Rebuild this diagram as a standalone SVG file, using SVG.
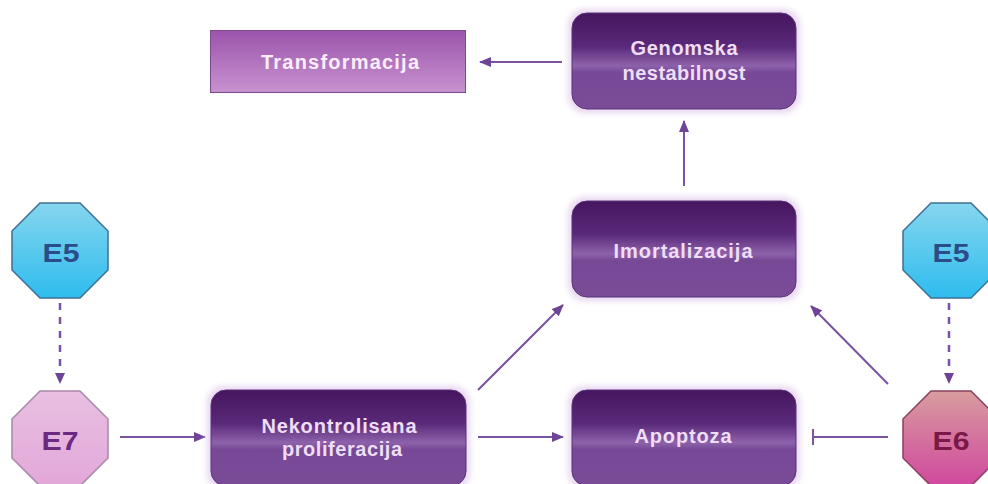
<svg xmlns="http://www.w3.org/2000/svg" width="988" height="484" viewBox="0 0 988 484">
<defs>
<linearGradient id="gBox" x1="0" y1="0" x2="0" y2="1">
<stop offset="0" stop-color="#45155f"/>
<stop offset="0.35" stop-color="#5a2a7a"/>
<stop offset="0.55" stop-color="#8e62ab"/>
<stop offset="0.62" stop-color="#764896"/>
<stop offset="1" stop-color="#7a4c98"/>
</linearGradient>
<linearGradient id="gTrans" x1="0" y1="0" x2="0" y2="1">
<stop offset="0" stop-color="#9c54ac"/>
<stop offset="1" stop-color="#c792cf"/>
</linearGradient>
<linearGradient id="gE5" x1="0" y1="0" x2="0" y2="1">
<stop offset="0" stop-color="#86d6ee"/>
<stop offset="1" stop-color="#2ebcee"/>
</linearGradient>
<linearGradient id="gE7" x1="0" y1="0" x2="0" y2="1">
<stop offset="0" stop-color="#e9bfe2"/>
<stop offset="1" stop-color="#e2a8d8"/>
</linearGradient>
<linearGradient id="gE6" x1="0" y1="0" x2="0" y2="1">
<stop offset="0" stop-color="#d89c9e"/>
<stop offset="1" stop-color="#d0489e"/>
</linearGradient>
<marker id="arr" viewBox="0 0 12 10" refX="11" refY="5" markerWidth="12" markerHeight="10" markerUnits="userSpaceOnUse" orient="auto">
<path d="M0,0 L12,5 L0,10 z" fill="#6e4496"/>
</marker>
<marker id="tee" viewBox="0 0 4 16" refX="2" refY="8" markerWidth="4" markerHeight="16" markerUnits="userSpaceOnUse" orient="auto">
<rect x="1" y="0" width="2" height="16" fill="#7a58a0"/>
</marker>
<filter id="glow" x="-10%" y="-20%" width="120%" height="140%">
<feGaussianBlur stdDeviation="3"/>
</filter>
</defs>
<style>
.box{fill:url(#gBox);stroke:#5a3278;stroke-width:1}
.halo{fill:#e8d6f0;filter:url(#glow)}
.lbl{font-family:"Liberation Sans",Arial,sans-serif;font-weight:bold;font-size:20px;fill:#efdef6;text-anchor:middle}
.elbl{font-family:"Liberation Sans",Arial,sans-serif;font-weight:bold;font-size:25px;text-anchor:middle}
.conn{stroke:#7a52a2;stroke-width:2;fill:none}
.dash{stroke:#7a52a2;stroke-width:2.5;fill:none;stroke-dasharray:7,7}
</style>
<rect width="988" height="484" fill="#ffffff"/>

<g id="connectors">
<line class="conn" x1="562" y1="62" x2="480" y2="62" marker-end="url(#arr)"/>
<line class="conn" x1="684" y1="186" x2="684" y2="121" marker-end="url(#arr)"/>
<line class="conn" x1="478" y1="390" x2="563" y2="305" marker-end="url(#arr)"/>
<line class="conn" x1="888" y1="384" x2="811" y2="306" marker-end="url(#arr)"/>
<line class="conn" x1="120" y1="437" x2="205" y2="437" marker-end="url(#arr)"/>
<line class="conn" x1="478" y1="437" x2="563" y2="437" marker-end="url(#arr)"/>
<line class="conn" x1="888" y1="437" x2="813" y2="437" marker-end="url(#tee)"/>
<line class="dash" x1="60" y1="303" x2="60" y2="373"/>
<path d="M55,373 L65,373 L60,384 z" fill="#6e4496"/>
<line class="dash" x1="949" y1="303" x2="949" y2="373"/>
<path d="M944,373 L954,373 L949,384 z" fill="#6e4496"/>
</g>

<g id="transformacija">
<rect x="210.5" y="30.5" width="255" height="62" fill="url(#gTrans)" stroke="#7b4a8c" stroke-width="1"/>
<text class="lbl" x="340" y="69" textLength="158" lengthAdjust="spacing" style="fill:#fbeefc">Transformacija</text>
</g>

<g id="genomska">
<rect class="halo" x="568" y="9" width="232" height="104" rx="17"/>
<rect class="box" x="572" y="13" width="224" height="96" rx="15"/>
<text class="lbl" x="684" y="55" textLength="107" lengthAdjust="spacing">Genomska</text>
<text class="lbl" x="684" y="80" textLength="123" lengthAdjust="spacing">nestabilnost</text>
</g>

<g id="imortalizacija">
<rect class="halo" x="568" y="197" width="232" height="104" rx="17"/>
<rect class="box" x="572" y="201" width="224" height="96" rx="15"/>
<text class="lbl" x="683" y="258" textLength="139" lengthAdjust="spacing">Imortalizacija</text>
</g>

<g id="nekontrolisana">
<rect class="halo" x="207" y="386" width="263" height="104" rx="17"/>
<rect class="box" x="211" y="390" width="255" height="96" rx="15"/>
<text class="lbl" x="339" y="433" textLength="155" lengthAdjust="spacing">Nekontrolisana</text>
<text class="lbl" x="342" y="456" textLength="120" lengthAdjust="spacing">proliferacija</text>
</g>

<g id="apoptoza">
<rect class="halo" x="568" y="386" width="232" height="104" rx="17"/>
<rect class="box" x="572" y="390" width="224" height="96" rx="15"/>
<text class="lbl" x="683" y="443" textLength="97" lengthAdjust="spacing">Apoptoza</text>
</g>

<g id="e5-left">
<polygon points="40,203 80,203 108,231 108,270 80,298 40,298 12,270 12,231" fill="url(#gE5)" stroke="#3f6f92" stroke-width="1.5"/>
<text class="elbl" x="61" y="262" fill="#2a4c88" textLength="37" lengthAdjust="spacingAndGlyphs">E5</text>
</g>

<g id="e7">
<polygon points="40,391 80,391 108,419 108,458 80,486 40,486 12,458 12,419" fill="url(#gE7)" stroke="#a888a8" stroke-width="1.5"/>
<text class="elbl" x="60" y="450" fill="#6a2a80" textLength="37" lengthAdjust="spacingAndGlyphs">E7</text>
</g>

<g id="e5-right">
<polygon points="931,203 971,203 999,231 999,270 971,298 931,298 903,270 903,231" fill="url(#gE5)" stroke="#3f6f92" stroke-width="1.5"/>
<text class="elbl" x="951" y="262" fill="#2a4c88" textLength="37" lengthAdjust="spacingAndGlyphs">E5</text>
</g>

<g id="e6">
<polygon points="931,391 971,391 999,419 999,458 971,486 931,486 903,458 903,419" fill="url(#gE6)" stroke="#8a4060" stroke-width="1.5"/>
<text class="elbl" x="951" y="450" fill="#7a1848" textLength="37" lengthAdjust="spacingAndGlyphs">E6</text>
</g>
</svg>
